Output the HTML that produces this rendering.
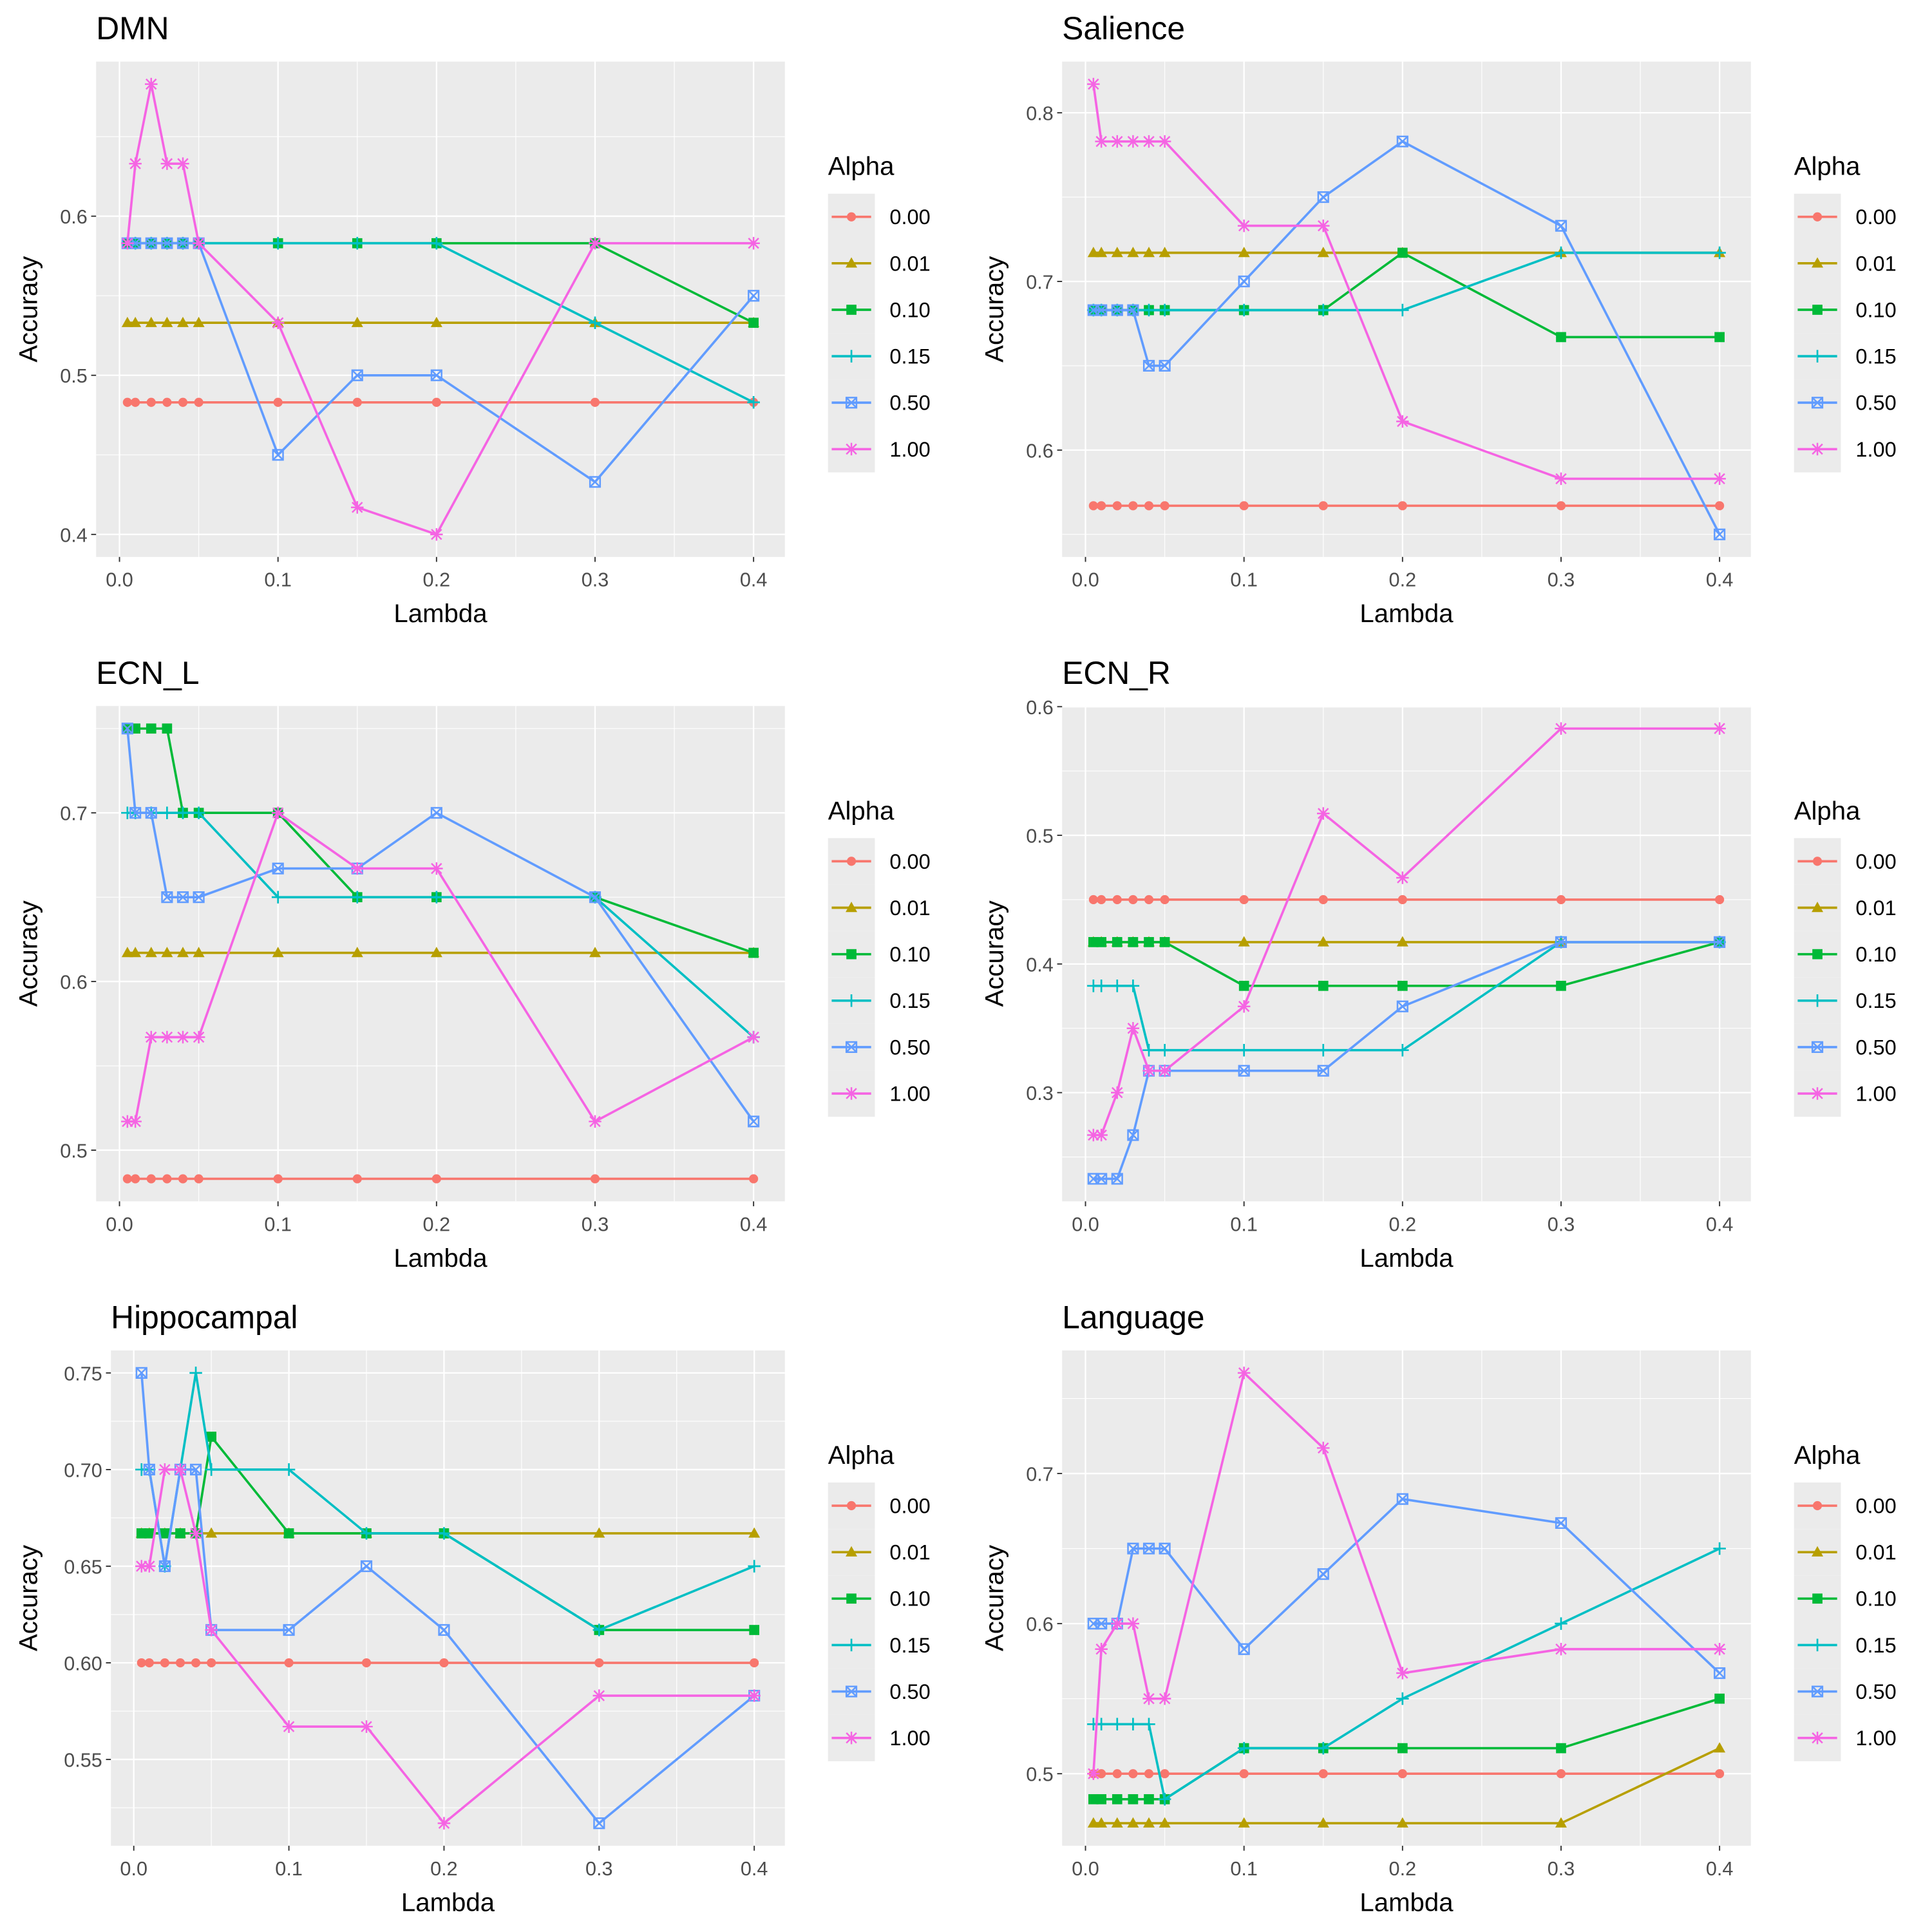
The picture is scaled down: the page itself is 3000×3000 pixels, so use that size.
<!DOCTYPE html>
<html><head><meta charset="utf-8"><style>
html,body{margin:0;padding:0;background:#fff;}
svg{display:block;font-family:"Liberation Sans",Arial,sans-serif;}
</style></head><body>
<svg id="chart" width="3000" height="3000" viewBox="0 0 1568 1568" xmlns="http://www.w3.org/2000/svg"></svg>
<script>
const lambdas = [0.005,0.01,0.02,0.03,0.04,0.05,0.1,0.15,0.2,0.3,0.4];
const alphaLabels = ["0.00","0.01","0.10","0.15","0.50","1.00"];
const colors = ["#F8766D","#B79F00","#00BA38","#00BFC4","#619CFF","#F564E3"];
const xTicks = [0,0.1,0.2,0.3,0.4];
const xTickLabels = ["0.0","0.1","0.2","0.3","0.4"];
const panelTitles = ["DMN","Salience","ECN_L","ECN_R","Hippocampal","Language"];
const yTicksDMN = [0.4,0.5,0.6];
const yTicksSal = [0.6,0.7,0.8];
const yTicksECNL = [0.5,0.6,0.7];
const yTicksECNR = [0.3,0.4,0.5,0.6];
const yTicksHip = [0.55,0.60,0.65,0.70,0.75];
const yTicksLang = [0.5,0.6,0.7];
const dmn = [
 [0.483,0.483,0.483,0.483,0.483,0.483,0.483,0.483,0.483,0.483,0.483],
 [0.533,0.533,0.533,0.533,0.533,0.533,0.533,0.533,0.533,0.533,0.533],
 [0.583,0.583,0.583,0.583,0.583,0.583,0.583,0.583,0.583,0.583,0.533],
 [0.583,0.583,0.583,0.583,0.583,0.583,0.583,0.583,0.583,0.533,0.483],
 [0.583,0.583,0.583,0.583,0.583,0.583,0.45,0.5,0.5,0.433,0.55],
 [0.583,0.633,0.683,0.633,0.633,0.583,0.533,0.417,0.4,0.583,0.583]];
const salience = [
 [0.567,0.567,0.567,0.567,0.567,0.567,0.567,0.567,0.567,0.567,0.567],
 [0.717,0.717,0.717,0.717,0.717,0.717,0.717,0.717,0.717,0.717,0.717],
 [0.683,0.683,0.683,0.683,0.683,0.683,0.683,0.683,0.717,0.667,0.667],
 [0.683,0.683,0.683,0.683,0.683,0.683,0.683,0.683,0.683,0.717,0.717],
 [0.683,0.683,0.683,0.683,0.65,0.65,0.7,0.75,0.783,0.733,0.55],
 [0.817,0.783,0.783,0.783,0.783,0.783,0.733,0.733,0.617,0.583,0.583]];
const ecnL = [
 [0.483,0.483,0.483,0.483,0.483,0.483,0.483,0.483,0.483,0.483,0.483],
 [0.617,0.617,0.617,0.617,0.617,0.617,0.617,0.617,0.617,0.617,0.617],
 [0.75,0.75,0.75,0.75,0.7,0.7,0.7,0.65,0.65,0.65,0.617],
 [0.7,0.7,0.7,0.7,0.7,0.7,0.65,0.65,0.65,0.65,0.567],
 [0.75,0.7,0.7,0.65,0.65,0.65,0.667,0.667,0.7,0.65,0.517],
 [0.517,0.517,0.567,0.567,0.567,0.567,0.7,0.667,0.667,0.517,0.567]];
const ecnR = [
 [0.45,0.45,0.45,0.45,0.45,0.45,0.45,0.45,0.45,0.45,0.45],
 [0.417,0.417,0.417,0.417,0.417,0.417,0.417,0.417,0.417,0.417,0.417],
 [0.417,0.417,0.417,0.417,0.417,0.417,0.383,0.383,0.383,0.383,0.417],
 [0.383,0.383,0.383,0.383,0.333,0.333,0.333,0.333,0.333,0.417,0.417],
 [0.233,0.233,0.233,0.267,0.317,0.317,0.317,0.317,0.367,0.417,0.417],
 [0.267,0.267,0.3,0.35,0.317,0.317,0.367,0.517,0.467,0.583,0.583]];
const hippo = [
 [0.6,0.6,0.6,0.6,0.6,0.6,0.6,0.6,0.6,0.6,0.6],
 [0.667,0.667,0.667,0.667,0.667,0.667,0.667,0.667,0.667,0.667,0.667],
 [0.667,0.667,0.667,0.667,0.667,0.717,0.667,0.667,0.667,0.617,0.617],
 [0.7,0.7,0.65,0.7,0.75,0.7,0.7,0.667,0.667,0.617,0.65],
 [0.75,0.7,0.65,0.7,0.7,0.617,0.617,0.65,0.617,0.517,0.583],
 [0.65,0.65,0.7,0.7,0.667,0.617,0.567,0.567,0.517,0.583,0.583]];
const language = [
 [0.5,0.5,0.5,0.5,0.5,0.5,0.5,0.5,0.5,0.5,0.5],
 [0.467,0.467,0.467,0.467,0.467,0.467,0.467,0.467,0.467,0.467,0.517],
 [0.483,0.483,0.483,0.483,0.483,0.483,0.517,0.517,0.517,0.517,0.55],
 [0.533,0.533,0.533,0.533,0.533,0.483,0.517,0.517,0.55,0.6,0.65],
 [0.6,0.6,0.6,0.65,0.65,0.65,0.583,0.633,0.683,0.667,0.567],
 [0.5,0.583,0.6,0.6,0.55,0.55,0.767,0.717,0.567,0.583,0.583]];

const panels = [
 {title:panelTitles[0],data:dmn,ticks:yTicksDMN,dec:1,x0:78,y0:50},
 {title:panelTitles[1],data:salience,ticks:yTicksSal,dec:1,x0:862,y0:50},
 {title:panelTitles[2],data:ecnL,ticks:yTicksECNL,dec:1,x0:78,y0:573},
 {title:panelTitles[3],data:ecnR,ticks:yTicksECNR,dec:1,x0:862,y0:573},
 {title:panelTitles[4],data:hippo,ticks:yTicksHip,dec:2,x0:90,y0:1096},
 {title:panelTitles[5],data:language,ticks:yTicksLang,dec:1,x0:862,y0:1096}];

const NS="http://www.w3.org/2000/svg";
const svg=document.getElementById('chart');
function mk(tag,attrs,parent){const e=document.createElementNS(NS,tag);for(const k in attrs)e.setAttribute(k,attrs[k]);(parent||svg).appendChild(e);return e;}

function marker(g,k,x,y,c){
  const r=4.1;
  if(k===0){const m=mk('circle',{cx:x,cy:y,r:r-0.4,fill:c},g);}
  else if(k===1){const m=mk('polygon',{points:`${x},${y-r-0.8} ${x-r-0.6},${y+r-0.6} ${x+r+0.6},${y+r-0.6}`,fill:c},g);}
  else if(k===2){const m=mk('rect',{x:x-r,y:y-r,width:2*r,height:2*r,fill:c},g);}
  else if(k===3){const m=mk('path',{d:`M${x-r-1},${y}H${x+r+1}M${x},${y-r-1}V${y+r+1}`,stroke:c,'stroke-width':1.4,fill:'none'},g);}
  else if(k===4){const m=mk('path',{d:`M${x-r},${y-r}h${2*r}v${2*r}h${-2*r}zM${x-r},${y-r}L${x+r},${y+r}M${x+r},${y-r}L${x-r},${y+r}`,stroke:c,'stroke-width':1.3,fill:'none'},g);}
  else {const m=mk('path',{d:`M${x-r-1},${y}H${x+r+1}M${x},${y-r-1}V${y+r+1}M${x-r},${y-r}L${x+r},${y+r}M${x+r},${y-r}L${x-r},${y+r}`,stroke:c,'stroke-width':1.3,fill:'none'},g);}
}

panels.forEach((p,pi)=>{
  const g=mk('g',{});
  
  
  const x1=637+(p.x0>=800?784:0), W=x1-p.x0, H=402, top=p.y0, bot=p.y0+H;
  const lmin=Math.min(...lambdas), lmax=Math.max(...lambdas), lr=lmax-lmin;
  const xl=lmin-0.05*lr, xh=lmax+0.05*lr;
  const X=v=>p.x0+(v-xl)/(xh-xl)*W;
  const all=p.data.flat(); const dmin=Math.min(...all), dmax=Math.max(...all), dr=dmax-dmin;
  const yl=dmin-0.05*dr, yh=dmax+0.05*dr;
  const Y=v=>bot-(v-yl)/(yh-yl)*H;
  const bg=mk('rect',{x:p.x0,y:top,width:W,height:H,fill:'#EBEBEB'},g);
  
  for(let i=0;i<xTicks.length-1;i++){const v=(xTicks[i]+xTicks[i+1])/2;mk('line',{x1:X(v),x2:X(v),y1:top,y2:bot,stroke:'#fff','stroke-width':0.6},g);}
  const st=p.ticks[1]-p.ticks[0];
  for(let v=p.ticks[0]-st/2;v<=yh+1e-9;v+=st){if(v>=yl)mk('line',{x1:p.x0,x2:x1,y1:Y(v),y2:Y(v),stroke:'#fff','stroke-width':0.6},g);}
  xTicks.forEach((v,i)=>{
    mk('line',{x1:X(v),x2:X(v),y1:top,y2:bot,stroke:'#fff','stroke-width':1.2},g);
    mk('line',{x1:X(v),x2:X(v),y1:bot,y2:bot+4,stroke:'#333','stroke-width':1},g);
    const t=mk('text',{x:X(v),y:bot+24,'font-size':16,fill:'#4D4D4D','text-anchor':'middle'},g);t.textContent=xTickLabels[i];
    
  });
  p.ticks.forEach(v=>{
    mk('line',{x1:p.x0,x2:x1,y1:Y(v),y2:Y(v),stroke:'#fff','stroke-width':1.2},g);
    mk('line',{x1:p.x0-4,x2:p.x0,y1:Y(v),y2:Y(v),stroke:'#333','stroke-width':1},g);
    const t=mk('text',{x:p.x0-7,y:Y(v)+6,'font-size':16,fill:'#4D4D4D','text-anchor':'end'},g);t.textContent=v.toFixed(p.dec);
    
  });
  p.data.forEach((s,k)=>{
    const sg=mk('g',{},g);
    
    
    const pl=mk('polyline',{points:s.map((v,i)=>X(lambdas[i])+','+Y(v)).join(' '),fill:'none',stroke:colors[k],'stroke-width':1.9},sg);
    
    s.forEach((v,i)=>marker(sg,k,X(lambdas[i]),Y(v),colors[k]));
  });
  const tt=mk('text',{x:p.x0,y:top-18,'font-size':26,fill:'#000'},g);tt.textContent=p.title;
  
  const xt=mk('text',{x:p.x0+W/2,y:bot+53,'font-size':21,fill:'#000','text-anchor':'middle'},g);xt.textContent='Lambda';
  
  const yx=(p.x0>=800?862:78)-48, yy=top+H/2;
  const yt=mk('text',{x:yx,y:yy,'font-size':21,fill:'#000','text-anchor':'middle',transform:`rotate(-90 ${yx} ${yy})`},g);yt.textContent='Accuracy';
  
  const lx=(p.x0>=800?1456:672), ly=top;
  const lg=mk('g',{},g);
  
  const lt=mk('text',{x:lx,y:ly+92,'font-size':21,fill:'#000'},lg);lt.textContent='Alpha';
  
  alphaLabels.forEach((a,k)=>{
    const cy=ly+126+k*37.7;
    const eg=mk('g',{},lg);
    
    mk('rect',{x:lx,y:cy-18.8,width:38,height:37.7,fill:'#EBEBEB'},eg);
    mk('line',{x1:lx+3,x2:lx+35,y1:cy,y2:cy,stroke:colors[k],'stroke-width':1.9},eg);
    marker(eg,k,lx+19,cy,colors[k]);
    const et=mk('text',{x:lx+50,y:cy+6,'font-size':17,fill:'#000'},eg);et.textContent=a;
  });
});
</script>
</body></html>
